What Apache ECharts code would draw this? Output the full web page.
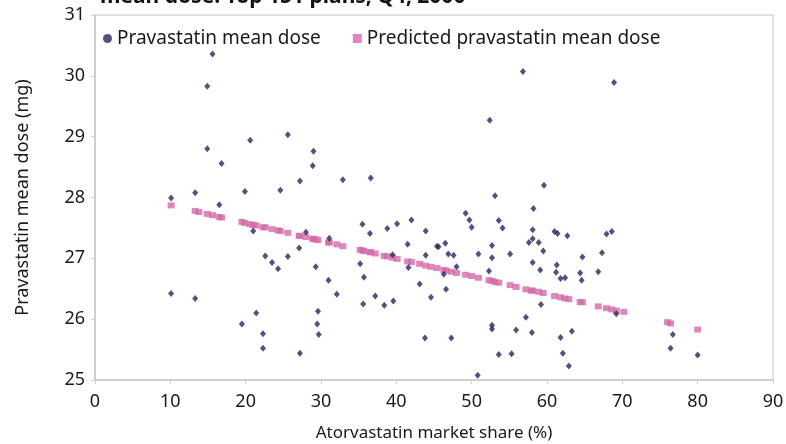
<!DOCTYPE html>
<html>
<head>
<meta charset="utf-8">
<script src="https://cdn.jsdelivr.net/npm/echarts@6/dist/echarts.min.js"></script>
<style>
  html, body { margin: 0; padding: 0; background: #ffffff; }
  #chart { width: 786px; height: 444px; }
</style>
</head>
<body>
<div id="chart"></div>
<script>
// Atorvastatin market share (%) per plan
const shareX = [
  15.6, 14.9, 14.9, 20.6, 16.8, 25.6, 29.0, 28.9, 27.2, 13.3,
  19.9, 24.6, 10.1, 56.8, 52.4, 32.9, 36.6, 53.1, 68.9, 59.6,
  16.5, 21.0, 28.0, 22.6, 23.5, 24.3, 25.6, 27.1, 29.3, 10.1,
  13.3, 21.4, 19.5, 22.3, 22.3, 27.2, 29.6, 29.5, 29.7, 49.2,
  49.7, 50.0, 42.0, 35.5, 40.1, 38.8, 36.5, 43.9, 53.6, 54.1,
  31.1, 41.5, 45.4, 45.6, 46.5, 46.9, 47.6, 43.9, 39.5, 50.9,
  52.7, 52.7, 55.1, 35.2, 41.6, 48.0, 52.3, 46.3, 35.7, 31.0,
  43.1, 32.1, 46.6, 37.2, 44.6, 35.6, 38.4, 39.6, 43.8, 47.3,
  52.7, 52.7, 53.6, 55.3, 50.8, 55.9, 57.2, 57.6, 58.2, 58.1,
  58.1, 58.9, 59.5, 58.1, 59.1, 61.0, 61.4, 62.7, 61.3, 61.2,
  61.8, 62.4, 64.7, 64.4, 64.6, 66.8, 67.3, 67.9, 68.6, 59.2,
  58.0, 61.8, 63.3, 62.1, 62.9, 69.2, 76.7, 76.4, 80.0
];
// Pravastatin mean dose (mg) per plan
const meanDose = [
  30.36, 29.83, 28.80, 28.94, 28.56, 29.03, 28.76, 28.52, 28.27, 28.08,
  28.10, 28.12, 27.99, 30.07, 29.27, 28.29, 28.32, 28.03, 29.89, 28.20,
  27.88, 27.45, 27.43, 27.04, 26.93, 26.83, 27.03, 27.17, 26.86, 26.42,
  26.34, 26.10, 25.92, 25.76, 25.52, 25.44, 26.13, 25.92, 25.75, 27.74,
  27.63, 27.51, 27.63, 27.56, 27.57, 27.49, 27.41, 27.45, 27.62, 27.50,
  27.33, 27.23, 27.20, 27.19, 27.25, 27.07, 27.05, 27.05, 27.06, 27.07,
  27.21, 27.01, 27.07, 26.91, 26.85, 26.86, 26.79, 26.74, 26.69, 26.64,
  26.58, 26.41, 26.49, 26.38, 26.36, 26.25, 26.23, 26.30, 25.69, 25.69,
  25.90, 25.84, 25.42, 25.43, 25.08, 25.82, 26.03, 27.26, 27.82, 27.47,
  27.32, 27.26, 27.12, 26.93, 26.81, 27.44, 27.41, 27.37, 26.89, 26.77,
  26.67, 26.68, 27.02, 26.76, 26.64, 26.78, 27.09, 27.40, 27.44, 26.24,
  25.78, 25.70, 25.80, 25.44, 25.23, 26.09, 25.75, 25.52, 25.41
];
// Predicted pravastatin mean dose along the market-share axis
const predX = [
  10.1, 13.3, 13.8, 14.9, 15.6, 16.5, 16.8, 19.5, 19.9, 20.6,
  21.0, 21.4, 22.3, 22.6, 23.5, 24.3, 24.6, 25.6, 27.1, 27.2,
  28.0, 28.9, 29.0, 29.3, 29.6, 31.0, 31.1, 32.1, 32.9, 35.2,
  35.5, 35.7, 36.5, 36.6, 37.2, 38.4, 38.8, 39.5, 40.1, 41.5,
  42.0, 43.1, 43.9, 44.6, 45.4, 46.3, 46.6, 47.3, 48.0, 49.2,
  50.0, 50.9, 52.3, 52.7, 53.1, 53.6, 55.1, 55.9, 57.2, 57.9,
  58.1, 58.9, 59.5, 61.0, 61.8, 62.4, 62.9, 64.4, 64.7, 66.8,
  67.9, 68.6, 69.2, 70.2, 76.0, 76.4, 80.0
];
const predY = [
  27.87, 27.78, 27.76, 27.73, 27.71, 27.68, 27.67, 27.60, 27.58, 27.56,
  27.55, 27.54, 27.51, 27.51, 27.48, 27.46, 27.45, 27.42, 27.37, 27.37,
  27.35, 27.32, 27.32, 27.31, 27.30, 27.26, 27.26, 27.23, 27.20, 27.14,
  27.13, 27.12, 27.10, 27.10, 27.08, 27.04, 27.03, 27.01, 26.99, 26.95,
  26.94, 26.91, 26.88, 26.86, 26.84, 26.81, 26.80, 26.78, 26.76, 26.73,
  26.71, 26.68, 26.64, 26.63, 26.61, 26.60, 26.56, 26.53, 26.49, 26.47,
  26.47, 26.45, 26.43, 26.38, 26.36, 26.34, 26.33, 26.28, 26.28, 26.21,
  26.18, 26.16, 26.14, 26.12, 25.95, 25.93, 25.83
];

const FONT = '"Noto Sans", "Open Sans", sans-serif';
const NAVY = '#27255f';
const PINK = '#d56aa6';

const observed = shareX.map((x, i) => [x, meanDose[i]]);
const predicted = predX.map((x, i) => [x, predY[i]]);

const chart = echarts.init(document.getElementById('chart'), null, { renderer: 'canvas' });
chart.setOption({
  backgroundColor: '#ffffff',
  animation: false,
  textStyle: { fontFamily: FONT },
  graphic: [{
    type: 'text',
    left: 100,
    top: -13,
    style: {
      text: 'mean dose: Top 151 plans, Q4, 2000',
      font: 'bold 21px ' + FONT,
      fill: '#111111'
    }
  }],
  legend: {
    left: 98,
    top: 24,
    itemWidth: 9,
    itemHeight: 9,
    itemGap: 32,
    textStyle: { fontSize: 19, color: '#1a1a1a', fontFamily: FONT },
    data: [
      { name: 'Pravastatin mean dose', icon: 'circle' },
      { name: 'Predicted pravastatin mean dose', icon: 'rect' }
    ]
  },
  grid: {
    left: 95, right: 13, top: 15, bottom: 64,
    outerBoundsMode: 'none',
    containLabel: false,
    show: true, borderColor: '#d9d9d9', borderWidth: 1.5
  },
  xAxis: {
    type: 'value', min: 0, max: 90, interval: 10,
    name: 'Atorvastatin market share (%)',
    nameLocation: 'middle', nameGap: 45,
    nameTextStyle: { fontSize: 17, color: '#1a1a1a', fontFamily: FONT },
    axisLine: { lineStyle: { color: '#c9c9c9', width: 1.5 } },
    axisTick: { show: true, length: 4, lineStyle: { color: '#d0d0d0' } },
    axisLabel: { fontSize: 18, color: '#1a1a1a', margin: 13, fontFamily: FONT },
    splitLine: { show: false }
  },
  yAxis: {
    type: 'value', min: 25, max: 31, interval: 1,
    name: 'Pravastatin mean dose (mg)',
    nameLocation: 'middle', nameGap: 63,
    nameTextStyle: { fontSize: 18, color: '#1a1a1a', fontFamily: FONT },
    axisLine: { show: true, lineStyle: { color: '#c9c9c9', width: 1.5 } },
    axisTick: { show: true, length: 4, lineStyle: { color: '#d0d0d0' } },
    axisLabel: { fontSize: 18, color: '#1a1a1a', margin: 10, fontFamily: FONT },
    splitLine: { show: false }
  },
  series: [
    {
      name: 'Predicted pravastatin mean dose',
      type: 'scatter',
      symbol: 'rect',
      symbolSize: [7, 6],
      itemStyle: { color: PINK },
      data: predicted,
      z: 2
    },
    {
      name: 'Pravastatin mean dose',
      type: 'scatter',
      symbol: 'diamond',
      symbolSize: [6, 7],
      itemStyle: { color: NAVY },
      data: observed,
      z: 3
    }
  ]
});
</script>
</body>
</html>
